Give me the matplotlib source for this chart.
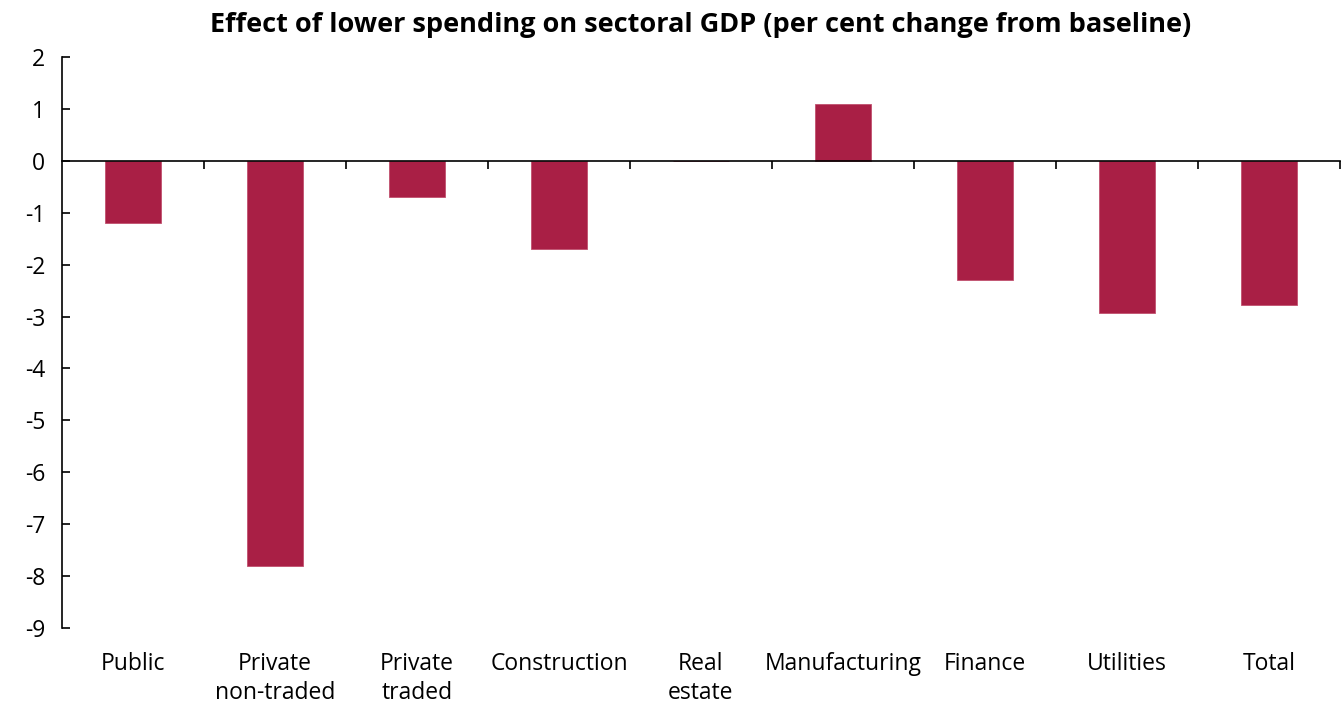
import matplotlib.pyplot as plt
import matplotlib.transforms as mtransforms
import numpy as np

plt.rcParams['font.family'] = ['Open Sans', 'DejaVu Sans']
plt.rcParams['axes.unicode_minus'] = False

# Data
sectors = ['Public', 'Private\nnon-traded', 'Private\ntraded', 'Construction',
           'Real\nestate', 'Manufacturing', 'Finance', 'Utilities', 'Total']
change = [-1.2, -7.8, -0.7, -1.7, 0.0, 1.1, -2.3, -2.93, -2.78]

fig = plt.figure(figsize=(13.42, 7.03), dpi=100)
ax = fig.add_axes([0.0462, 0.1067, 0.9523, 0.8123])

x = np.arange(len(sectors))
ax.bar(x, change, width=0.39, color='#A91F45', edgecolor='#C0506E', linewidth=0.6, zorder=2)

ax.set_xlim(-0.5, len(sectors) - 0.5)
ax.set_ylim(-9, 2)
ax.set_yticks(np.arange(-9, 3, 1))
ax.tick_params(axis='y', direction='in', length=6, width=1.2, labelsize=16.5, pad=12)

# zero line with category boundary ticks
for s in ['top', 'right']:
    ax.spines[s].set_visible(False)
ax.spines['bottom'].set_position(('data', 0))
ax.spines['bottom'].set_linewidth(1.2)
ax.spines['left'].set_linewidth(1.2)
ax.spines['bottom'].set_zorder(3)
ax.set_xticks(x + 0.5)
ax.set_xticklabels([])
ax.tick_params(axis='x', direction='out', length=6, width=1.2)

trans = mtransforms.blended_transform_factory(ax.transData, ax.transAxes)
for xi, name in zip(x, sectors):
    ax.text(xi, -0.042, name, transform=trans, ha='center', va='top',
            fontsize=16.5, linespacing=1.3)

ax.set_title('Effect of lower spending on sectoral GDP (per cent change from baseline)',
             fontsize=19.5, fontweight='bold', pad=18)

fig.savefig('out.png', dpi=100)
